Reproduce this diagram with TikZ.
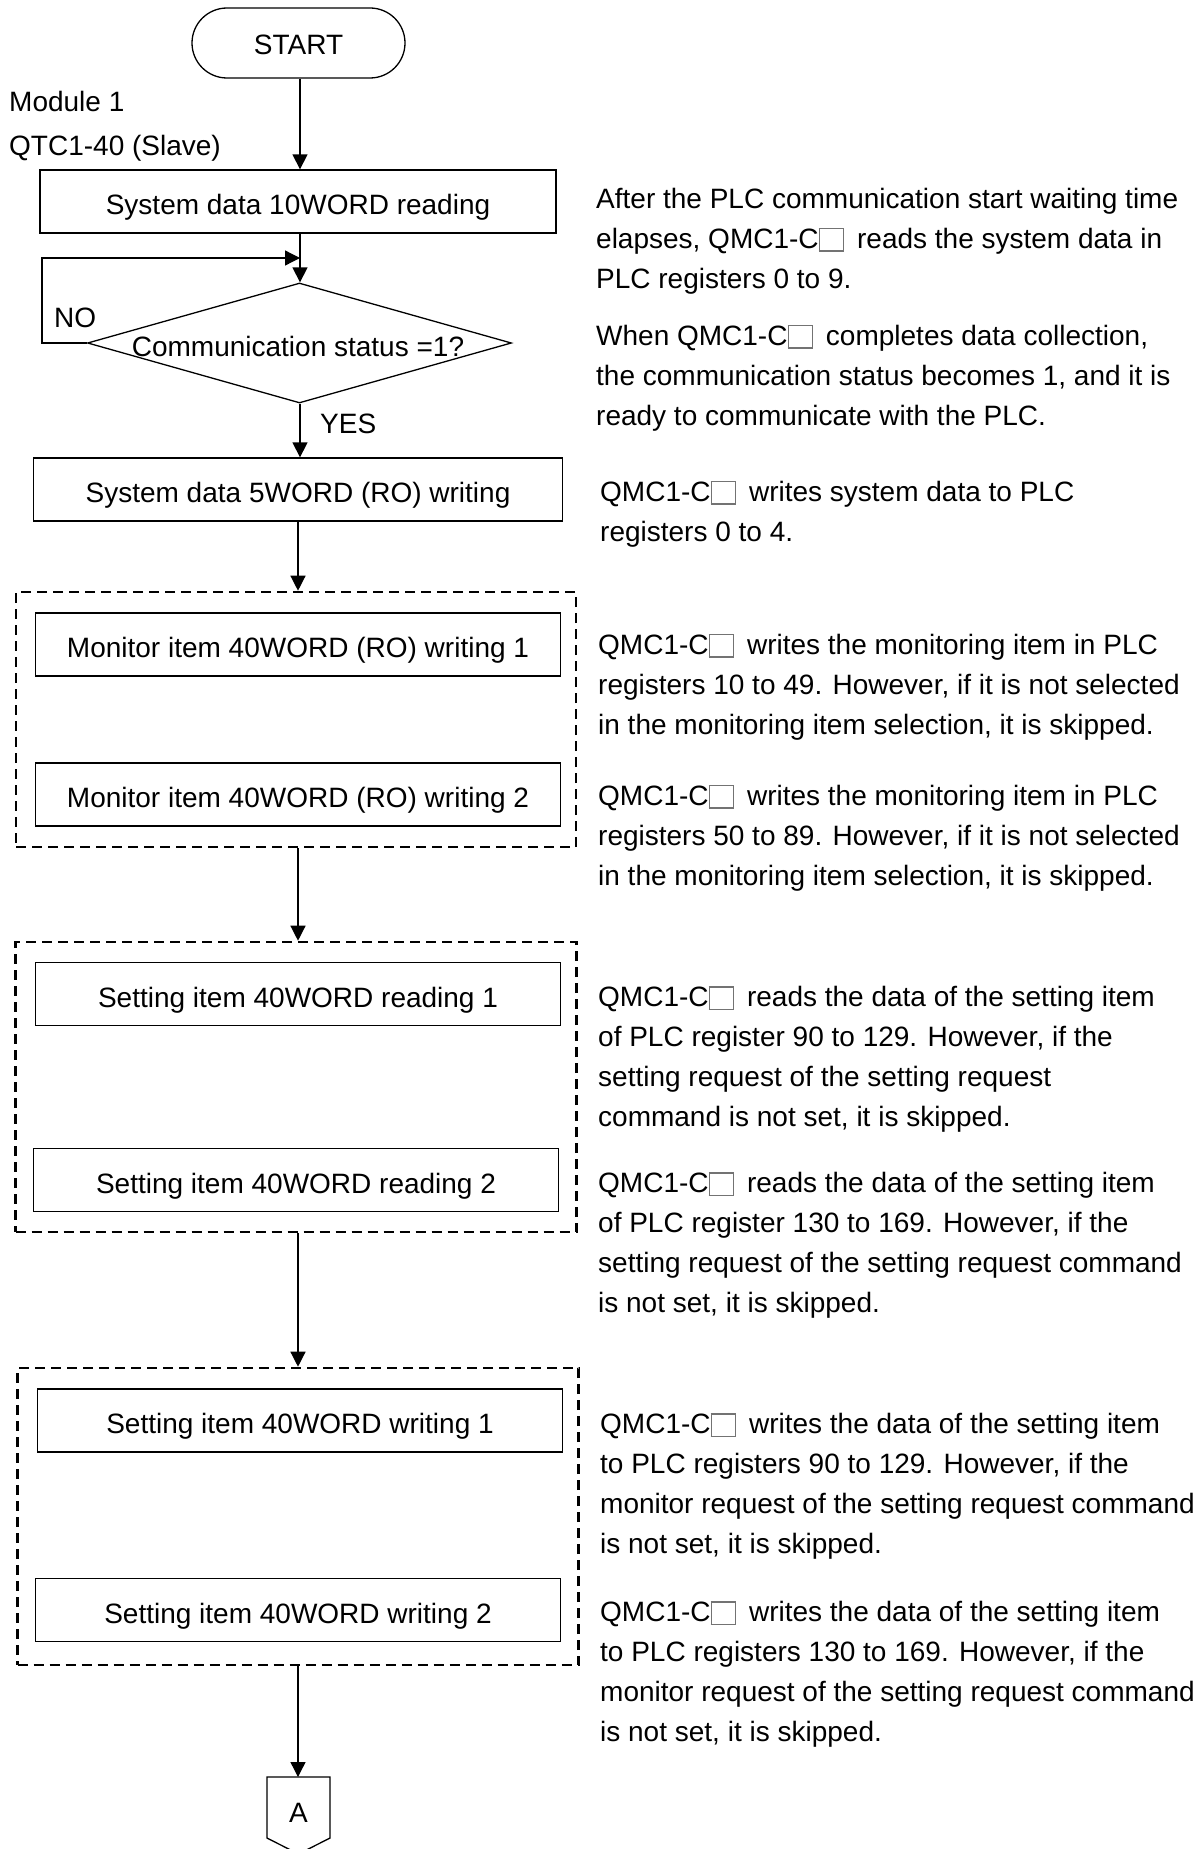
\documentclass[tikz,border=0pt]{standalone}
\usepackage{fontspec}
\setmainfont{Liberation Sans}
\usetikzlibrary{arrows.meta,shapes.geometric,shapes.misc}
\newcommand\qbox{\raisebox{-2pt}{\fboxsep=0pt\fboxrule=1.2pt\fcolorbox{black!55}{white}{\rule{0pt}{21pt}\hspace{23pt}}}\hspace{13pt}}
\begin{document}
\begin{tikzpicture}[x=1pt,y=-1pt,
  box/.style={draw, line width=1.3pt, minimum height=63pt, inner sep=0pt, text height=26pt, text depth=0pt, font=\fontsize{28}{33}\selectfont},
  grp/.style={draw, line width=2.6pt, dash pattern=on 10pt off 6pt, inner sep=0pt},
  arr/.style={-{Triangle[width=15pt,length=15pt]}, line width=1.3pt},
  lbl/.style={anchor=base west, inner sep=0pt, font=\fontsize{28}{33}\selectfont},
  note/.style={anchor=north west, inner sep=0pt, align=left, font=\fontsize{28}{40}\selectfont}]
\useasboundingbox (0,0) rectangle (1202,1849);

% start
\node[draw, rounded rectangle, line width=1.3pt, minimum width=213pt, minimum height=70pt, inner sep=0pt,
  text height=24pt, text depth=0pt, font=\fontsize{28}{33}\selectfont] (start) at (298.5,43) {START};
\node[lbl] (mod) at (9,112) {Module 1};
\node[lbl] (qtc) at (9,155) {QTC1-40 (Slave)};

\node[box, minimum width=516pt] (b1) at (298,201.5) {System data 10WORD reading};
\node[draw, diamond, line width=1.3pt, minimum width=424pt, minimum height=120pt, inner sep=0pt] (dia) at (299.5,343) {};
\node[font=\fontsize{28}{33}\selectfont, inner sep=0pt] (diat) at (298,346) {Communication status =1?};
\node[lbl] (no) at (54,327) {NO};
\node[lbl] (yes) at (320,433) {YES};
\node[box, minimum width=529pt] (b2) at (298,489.5) {System data 5WORD (RO) writing};

% group 1
\node[grp, minimum width=560pt, minimum height=255pt] (g1) at (296,719.5) {};
\node[box, minimum width=525pt] (m1) at (298,644.5) {Monitor item 40WORD (RO) writing 1};
\node[box, minimum width=525pt] (m2) at (298,794.5) {Monitor item 40WORD (RO) writing 2};

% group 2
\node[grp, minimum width=561pt, minimum height=290pt] (g2) at (296,1087) {};
\node[box, minimum width=525pt] (r1) at (298,994) {Setting item 40WORD reading 1};
\node[box, minimum width=525pt] (r2) at (296,1180) {Setting item 40WORD reading 2};

% group 3
\node[grp, minimum width=561pt, minimum height=297pt] (g3) at (298,1516.5) {};
\node[box, minimum width=525pt] (w1) at (300,1420.5) {Setting item 40WORD writing 1};
\node[box, minimum width=525pt] (w2) at (298,1610) {Setting item 40WORD writing 2};

% off-page connector A
\coordinate (atop) at (298,1777);
\draw[line width=1.3pt] (267,1777) -- (330,1777) -- (330,1838) -- (298.5,1854) -- (267,1838) -- cycle;
\node[font=\fontsize{28}{33}\selectfont, inner sep=0pt] (A) at (298.5,1813) {A};

% connectors
\coordinate (fb) at (42,258);
\coordinate (j) at (300,258);
\coordinate (k) at (298,600);
\draw[arr] (start.south -| j) -- (j |- b1.north);
\draw[arr] (j |- b1.south) -- (j |- dia.north);
\draw[arr] (dia.west) -| (fb) -- (j);
\draw[arr] (j |- dia.south) -- (j |- b2.north);
\draw[arr] (k |- b2.south) -- (k |- g1.north);
\draw[arr] (k |- g1.south) -- (k |- g2.north);
\draw[arr] (k |- g2.south) -- (k |- g3.north);
\draw[arr] (k |- g3.south) -- (atop);

% notes
\node[note] (n1) at (596,188) {After the PLC communication start waiting time\\elapses, QMC1-C\qbox reads the system data in\\PLC registers 0 to 9.};
\node[note] (n2) at (596,325) {When QMC1-C\qbox completes data collection,\\the communication status becomes 1, and it is\\ready to communicate with the PLC.};
\node[note] (n3) at (600,481) {QMC1-C\qbox writes system data to PLC\\registers 0 to 4.};
\node[note] (n4) at (598,634) {QMC1-C\qbox writes the monitoring item in PLC\\registers 10 to 49. However, if it is not selected\\in the monitoring item selection, it is skipped.};
\node[note] (n5) at (598,785) {QMC1-C\qbox writes the monitoring item in PLC\\registers 50 to 89. However, if it is not selected\\in the monitoring item selection, it is skipped.};
\node[note] (n6) at (598,986) {QMC1-C\qbox reads the data of the setting item\\of PLC register 90 to 129. However, if the\\setting request of the setting request\\command is not set, it is skipped.};
\node[note] (n7) at (598,1172) {QMC1-C\qbox reads the data of the setting item\\of PLC register 130 to 169. However, if the\\setting request of the setting request command\\is not set, it is skipped.};
\node[note] (n8) at (600,1413) {QMC1-C\qbox writes the data of the setting item\\to PLC registers 90 to 129. However, if the\\monitor request of the setting request command\\is not set, it is skipped.};
\node[note] (n9) at (600,1601) {QMC1-C\qbox writes the data of the setting item\\to PLC registers 130 to 169. However, if the\\monitor request of the setting request command\\is not set, it is skipped.};
\end{tikzpicture}
\end{document}
